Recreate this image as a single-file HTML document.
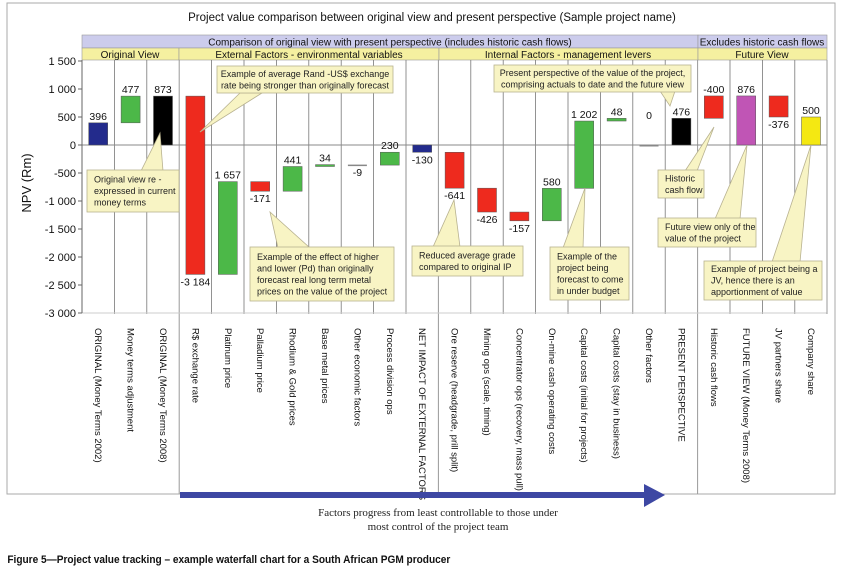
<!DOCTYPE html>
<html><head><meta charset="utf-8"><style>
html,body{margin:0;padding:0;background:#fff;}
svg{display:block;font-family:"Liberation Sans",Arial,sans-serif;}
</style></head><body>
<svg id="chart" width="843" height="572" viewBox="0 0 843 572" xmlns="http://www.w3.org/2000/svg">
<rect x="7" y="3" width="828" height="491" fill="#fff" stroke="#aaa" stroke-width="1"/>
<text x="432" y="21" font-size="11.5" text-anchor="middle" fill="#111">Project value comparison between original view and present perspective (Sample project name)</text>
<rect x="82" y="35" width="616" height="13" fill="#ccccec" stroke="#999" stroke-width="0.6"/>
<rect x="698" y="35" width="129" height="13" fill="#ccccec" stroke="#999" stroke-width="0.6"/>
<text x="390" y="45.5" font-size="10" text-anchor="middle" fill="#111">Comparison of original view with present perspective (includes historic cash flows)</text>
<text x="762" y="45.5" font-size="10" text-anchor="middle" fill="#111">Excludes historic cash flows</text>
<rect x="82" y="48" width="97" height="12" fill="#f5f0a0" stroke="#999" stroke-width="0.6"/>
<rect x="179" y="48" width="260" height="12" fill="#f5f0a0" stroke="#999" stroke-width="0.6"/>
<rect x="439" y="48" width="259" height="12" fill="#f5f0a0" stroke="#999" stroke-width="0.6"/>
<rect x="698" y="48" width="129" height="12" fill="#f5f0a0" stroke="#999" stroke-width="0.6"/>
<text x="130" y="58" font-size="10" text-anchor="middle" fill="#111">Original View</text>
<text x="309" y="58" font-size="10" text-anchor="middle" fill="#111">External Factors  - environmental variables</text>
<text x="568" y="58" font-size="10" text-anchor="middle" fill="#111">Internal Factors  - management levers</text>
<text x="762" y="58" font-size="10" text-anchor="middle" fill="#111">Future View</text>
<text transform="translate(31,183) rotate(-90)" font-size="13" text-anchor="middle" fill="#111">NPV (Rm)</text>
<g id="grid"></g>
<g id="bars"></g>
<g id="callouts"></g>
<g id="xlabels"></g>
<line x1="180" y1="495" x2="646" y2="495" stroke="#3d47a3" stroke-width="6"/>
<polygon points="644,484 665,495 644,507" fill="#3d47a3"/>
<text x="438" y="516" font-size="11" text-anchor="middle" font-family="Liberation Serif,serif" fill="#222">Factors progress from least controllable to those under</text>
<text x="438" y="530" font-size="11" text-anchor="middle" font-family="Liberation Serif,serif" fill="#222">most control of the project team</text>
<text x="8" y="563" font-size="11" font-weight="bold" fill="#111" transform="scale(0.92,1)">Figure 5—Project value tracking – example waterfall chart for a South African PGM producer</text>
</svg>
<script>
const categories = ["ORIGINAL (Money Terms 2002)","Money terms adjustment","ORIGINAL (Money Terms 2008)","R$ exchange rate","Platinum price","Palladium price","Rhodium & Gold prices","Base metal prices","Other economic factors","Process division ops","NET IMPACT OF EXTERNAL FACTORS","Ore reserve (headgrade, prill split)","Mining ops (scale, timing)","Concentrator ops (recovery, mass pull)","On-mine cash operating costs","Capital costs (initial for projects)","Capital costs (stay in business)","Other factors","PRESENT PERSPECTIVE","Historic cash flows","FUTURE VIEW (Money Terms 2008)","JV partners share","Company share"];
const startValues = [0,396,0,873,-2311,-654,-825,-384,-350,-359,0,-130,-771,-1197,-1354,-774,428,0,0,476,0,876,0];
const endValues = [396,873,873,-2311,-654,-825,-384,-350,-359,-129,-130,-771,-1197,-1354,-774,428,476,0,476,876,876,500,500];
const valueLabels = ["396","477","873","-3 184","1 657","-171","441","34","-9","230","-130","-641","-426","-157","580","1 202","48","0","476","-400","876","-376","500"];
const kinds = ["blue","green","black","red","green","red","green","green","gray","green","blue","red","red","red","green","green","green","gray","black","red","magenta","red","yellow"];
const yTicks = [1500,1000,500,0,-500,-1000,-1500,-2000,-2500,-3000];
const yTickLabels = ["1 500","1 000","500","0","-500","-1 000","-1 500","-2 000","-2 500","-3 000"];

const NS="http://www.w3.org/2000/svg";
const X0=82, COLW=32.4, BARW=19;
const yScale=v=>145 - v*28/500;
const xCenter=i=>X0 + COLW*(i+0.5);
const palette={blue:"#232b8c",green:"#4cb848",red:"#ee2a1e",black:"#000",gray:"#888",magenta:"#c055b5",yellow:"#f4e812"};
function mk(tag,attrs,parent){const e=document.createElementNS(NS,tag);for(const k in attrs)e.setAttribute(k,attrs[k]);parent.appendChild(e);return e;}

const grid=document.getElementById('grid');
for(let i=1;i<categories.length;i++){
  const x=X0+COLW*i;
  const major=(i===3||i===11||i===19);
  const ln=mk('line',{x1:x,y1:60,x2:x,y2:major?494:314,stroke:major?'#999':'#777','stroke-width':major?1:0.8},grid);
  
  
}
const zl=mk('line',{x1:X0,y1:yScale(0),x2:827,y2:yScale(0),stroke:'#888','stroke-width':1},grid);


const bl=mk('line',{x1:X0,y1:yScale(-3000),x2:827,y2:yScale(-3000),stroke:'#ccc','stroke-width':1},grid);


const ax=mk('line',{x1:X0,y1:60,x2:X0,y2:yScale(-3000),stroke:'#666','stroke-width':1},grid);


const vr=mk('line',{x1:827,y1:60,x2:827,y2:314,stroke:'#999','stroke-width':1},grid);


yTicks.forEach((v,i)=>{
  const y=yScale(v);
  const t=mk('line',{x1:X0-4,y1:y,x2:X0,y2:y,stroke:'#666'},grid);
  
  
  const tx=mk('text',{x:X0-6,y:y+4,'font-size':11,'text-anchor':'end',fill:'#111'},grid);
  tx.textContent=yTickLabels[i];
  
  
});

const bars=document.getElementById('bars');
categories.forEach((c,i)=>{
  const s=startValues[i], e=endValues[i];
  const top=yScale(Math.max(s,e)), bot=yScale(Math.min(s,e));
  const cx=xCenter(i);
  const h=Math.max(bot-top,1.5);
  const r=mk('rect',{x:cx-BARW/2,y:top,width:BARW,height:h,fill:palette[kinds[i]],stroke:kinds[i]==='gray'?'none':'#555','stroke-width':0.5},bars);
  
  
  const below = e<s || (e<0 && s===0);
  let ly = below ? bot+11 : top-3;
  if (s===e && s===0) ly = top-26;
  const t=mk('text',{x:cx,y:ly,'font-size':10.5,'text-anchor':'middle',fill:'#111'},bars);
  t.textContent=valueLabels[i];
  
  
});

const xl=document.getElementById('xlabels');
categories.forEach((c,i)=>{
  const cx=xCenter(i);
  const t=mk('text',{transform:`translate(${cx-3},328) rotate(90)`,'font-size':9.5,fill:'#111'},xl);
  t.textContent=c;
  
  
});

const co=document.getElementById('callouts');
const callouts=[
 {b:[217,66,176,27],tail:[[240,93],[262,93],[200,132]],lines:["Example of average Rand  -US$ exchange","rate being stronger than originally forecast"],center:true},
 {b:[87,170,92,42],tail:[[141,171],[163,171],[160,133]],lines:["Original view re -","expressed in current","money terms"]},
 {b:[250,247,144,54],tail:[[278,248],[310,248],[270,212]],lines:["Example of the effect of higher","and lower (Pd) than originally","forecast real long term metal","prices on the value of the project"]},
 {b:[494,65,197,27],tail:[[660,91],[675,91],[670,106]],lines:["Present perspective of the value of the project,","comprising  actuals to date and the future view"],center:true},
 {b:[412,246,111,30],tail:[[433,247],[460,247],[454,200]],lines:["Reduced average grade","compared to original IP"]},
 {b:[550,247,79,53],tail:[[563,248],[583,248],[585,188]],lines:["Example of the","project being","forecast to come","in under budget"]},
 {b:[658,170,46,28],tail:[[685,171],[697,171],[714,127]],lines:["Historic","cash flow"]},
 {b:[658,218,98,29],tail:[[715,219],[740,219],[747,145]],lines:["Future view only of the","value of the project"]},
 {b:[704,261,118,39],tail:[[772,262],[800,262],[811,145]],lines:["Example of project being a","JV, hence there is an","apportionment of value"]}
];
callouts.forEach((c,k)=>{
  const g=mk('g',{},co);
  
  
  mk('polygon',{points:c.tail.map(p=>p.join(',')).join(' '),fill:'#f8f4c4',stroke:'#b8b290','stroke-width':0.8},g);
  mk('rect',{x:c.b[0],y:c.b[1],width:c.b[2],height:c.b[3],fill:'#f8f4c4',stroke:'#b8b290','stroke-width':0.8},g);
  const lh=11.5, n=c.lines.length;
  const y0=c.b[1]+c.b[3]/2-(n-1)*lh/2+3;
  c.lines.forEach((l,j)=>{
    const t=mk('text',{x:c.center?c.b[0]+c.b[2]/2:c.b[0]+7,y:y0+j*lh,'font-size':9,'text-anchor':c.center?'middle':'start',fill:'#222'},g);
    t.textContent=l;
  });
});
</script>
</body></html>
